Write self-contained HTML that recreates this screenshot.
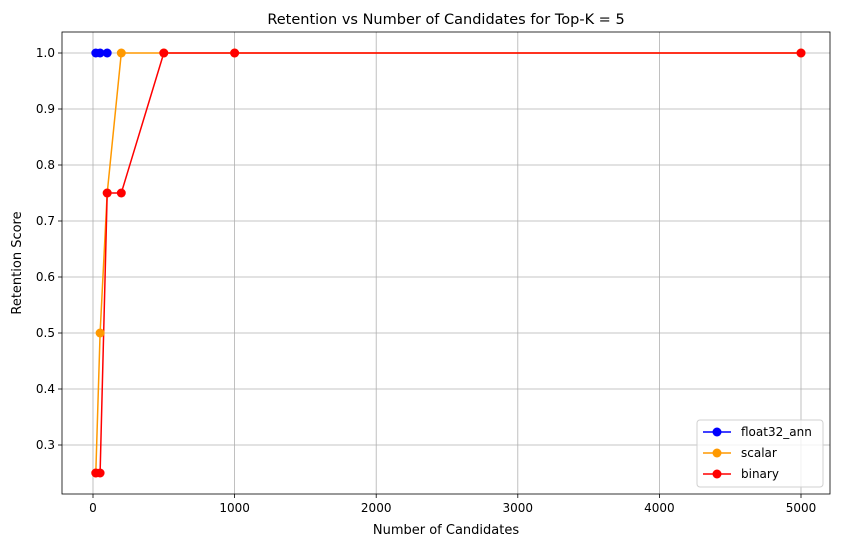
<!DOCTYPE html>
<html><head><meta charset="utf-8"><style>body{margin:0;background:#fff}svg{display:block}text{font-family:"DejaVu Sans","Liberation Sans",sans-serif;fill:#000}</style></head><body>
<svg width="845" height="544" xmlns="http://www.w3.org/2000/svg">
<rect width="845" height="544" fill="#fff"/>
<g stroke="#b0b0b0" stroke-width="0.8">
<line x1="93" y1="32" x2="93" y2="494"/><line x1="234.6" y1="32" x2="234.6" y2="494"/><line x1="376.2" y1="32" x2="376.2" y2="494"/><line x1="517.8" y1="32" x2="517.8" y2="494"/><line x1="659.4" y1="32" x2="659.4" y2="494"/><line x1="801" y1="32" x2="801" y2="494"/>
<line x1="62" y1="53" x2="830" y2="53"/><line x1="62" y1="109" x2="830" y2="109"/><line x1="62" y1="165" x2="830" y2="165"/><line x1="62" y1="221" x2="830" y2="221"/><line x1="62" y1="277" x2="830" y2="277"/><line x1="62" y1="333" x2="830" y2="333"/><line x1="62" y1="389" x2="830" y2="389"/><line x1="62" y1="445" x2="830" y2="445"/>
</g>
<rect x="62" y="32" width="768" height="462" fill="none" stroke="#000" stroke-width="0.8"/>
<g stroke="#000" stroke-width="0.8">
<line x1="93" y1="494" x2="93" y2="498"/><line x1="234.6" y1="494" x2="234.6" y2="498"/><line x1="376.2" y1="494" x2="376.2" y2="498"/><line x1="517.8" y1="494" x2="517.8" y2="498"/><line x1="659.4" y1="494" x2="659.4" y2="498"/><line x1="801" y1="494" x2="801" y2="498"/>
<line x1="58" y1="53" x2="62" y2="53"/><line x1="58" y1="109" x2="62" y2="109"/><line x1="58" y1="165" x2="62" y2="165"/><line x1="58" y1="221" x2="62" y2="221"/><line x1="58" y1="277" x2="62" y2="277"/><line x1="58" y1="333" x2="62" y2="333"/><line x1="58" y1="389" x2="62" y2="389"/><line x1="58" y1="445" x2="62" y2="445"/>
</g>
<g font-size="12" text-anchor="middle">
<text x="93" y="512">0</text><text x="234.6" y="512">1000</text><text x="376.2" y="512">2000</text><text x="517.8" y="512">3000</text><text x="659.4" y="512">4000</text><text x="801" y="512">5000</text>
</g>
<g font-size="12" text-anchor="end">
<text x="55" y="57">1.0</text><text x="55" y="113">0.9</text><text x="55" y="169">0.8</text><text x="55" y="225">0.7</text><text x="55" y="281">0.6</text><text x="55" y="337">0.5</text><text x="55" y="393">0.4</text><text x="55" y="449">0.3</text>
</g>
<text x="446" y="534" font-size="13" text-anchor="middle">Number of Candidates</text>
<text x="21" y="263" font-size="13" text-anchor="middle" transform="rotate(-90 21 263)">Retention Score</text>
<text x="446" y="24" font-size="14.5" text-anchor="middle">Retention vs Number of Candidates for Top-K = 5</text>
<g fill="none" stroke-width="1.5">
<polyline stroke="#0000ff" points="95.8,53 100.1,53 107.2,53"/>
<polyline stroke="#ff9900" points="95.8,473 100.1,333 107.2,193 121.3,53 163.8,53 234.6,53 801,53"/>
<polyline stroke="#ff0000" points="95.8,473 100.1,473 107.2,193 121.3,193 163.8,53 234.6,53 801,53"/>
</g>
<g fill="#0000ff"><circle cx="95.8" cy="53" r="4.5"/><circle cx="100.1" cy="53" r="4.5"/><circle cx="107.2" cy="53" r="4.5"/></g>
<g fill="#ff9900"><circle cx="95.8" cy="473" r="4.5"/><circle cx="100.1" cy="333" r="4.5"/><circle cx="107.2" cy="193" r="4.5"/><circle cx="121.3" cy="53" r="4.5"/><circle cx="163.8" cy="53" r="4.5"/><circle cx="234.6" cy="53" r="4.5"/><circle cx="801" cy="53" r="4.5"/></g>
<g fill="#ff0000"><circle cx="95.8" cy="473" r="4.5"/><circle cx="100.1" cy="473" r="4.5"/><circle cx="107.2" cy="193" r="4.5"/><circle cx="121.3" cy="193" r="4.5"/><circle cx="163.8" cy="53" r="4.5"/><circle cx="234.6" cy="53" r="4.5"/><circle cx="801" cy="53" r="4.5"/></g>
<rect x="697" y="420" width="126" height="67" rx="3" fill="#fff" fill-opacity="0.8" stroke="#d0d0d0"/>
<g stroke-width="1.5">
<line x1="703" y1="432" x2="731" y2="432" stroke="#0000ff"/><circle cx="717" cy="432" r="4.5" fill="#0000ff"/>
<line x1="703" y1="453" x2="731" y2="453" stroke="#ff9900"/><circle cx="717" cy="453" r="4.5" fill="#ff9900"/>
<line x1="703" y1="474" x2="731" y2="474" stroke="#ff0000"/><circle cx="717" cy="474" r="4.5" fill="#ff0000"/>
</g>
<g font-size="12"><text x="741" y="436">float32_ann</text><text x="741" y="457">scalar</text><text x="741" y="478">binary</text></g>
</svg>
</body></html>
